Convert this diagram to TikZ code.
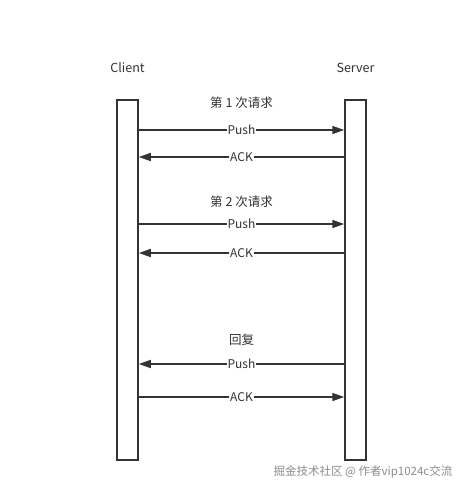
\documentclass[tikz,border=0pt]{standalone}
\usepackage{fontspec}
\setmainfont{Noto Sans CJK SC}
\usetikzlibrary{arrows.meta}
\definecolor{ink}{HTML}{333333}
\begin{document}
\begin{tikzpicture}[x=1pt,y=-1pt,
  life/.style={draw=ink,line width=1.5pt,fill=white},
  msg/.style={draw=ink,line width=1.5pt,-{Triangle[length=12pt,width=8pt]}},
  lbl/.style={fill=white,inner sep=1pt,text=ink,font=\fontsize{12pt}{14pt}\selectfont},
  head/.style={text=ink,font=\fontsize{12.5pt}{14pt}\selectfont},
  wm/.style={text=black!45,font=\fontsize{11.5pt}{13pt}\selectfont}]
\useasboundingbox (0,0) rectangle (467,492);
\fill[white] (0,0) rectangle (467,492);
\node[life,minimum width=21pt,minimum height=360pt,inner sep=0pt] (cl) at (127.5,280) {};
\node[life,minimum width=21pt,minimum height=360pt,inner sep=0pt] (sv) at (355.5,280) {};
\node[head] (clt) at (127.5,68) {Client};
\node[head] (svt) at (355.5,68) {Server};
\coordinate (c1) at (cl.east |- 0,130); \coordinate (s1) at (sv.west |- 0,130);
\coordinate (c2) at (cl.east |- 0,157); \coordinate (s2) at (sv.west |- 0,157);
\coordinate (c3) at (cl.east |- 0,224); \coordinate (s3) at (sv.west |- 0,224);
\coordinate (c4) at (cl.east |- 0,253); \coordinate (s4) at (sv.west |- 0,253);
\coordinate (c5) at (cl.east |- 0,364); \coordinate (s5) at (sv.west |- 0,364);
\coordinate (c6) at (cl.east |- 0,397); \coordinate (s6) at (sv.west |- 0,397);
\node[head] (r1) at (241.5,103) {第 1 次请求};
\node[head] (r2) at (241.5,202) {第 2 次请求};
\node[head] (r3) at (241.5,340) {回复};
\draw[msg] (c1) -- node[lbl] (p1) {Push} (s1);
\draw[msg] (s2) -- node[lbl] (a1) {ACK} (c2);
\draw[msg] (c3) -- node[lbl] (p2) {Push} (s3);
\draw[msg] (s4) -- node[lbl] (a2) {ACK} (c4);
\draw[msg] (s5) -- node[lbl] (p3) {Push} (c5);
\draw[msg] (c6) -- node[lbl] (a3) {ACK} (s6);
\node[wm] (wm) at (363,472) {掘金技术社区 @ 作者vip1024c交流};
\end{tikzpicture}
\end{document}
